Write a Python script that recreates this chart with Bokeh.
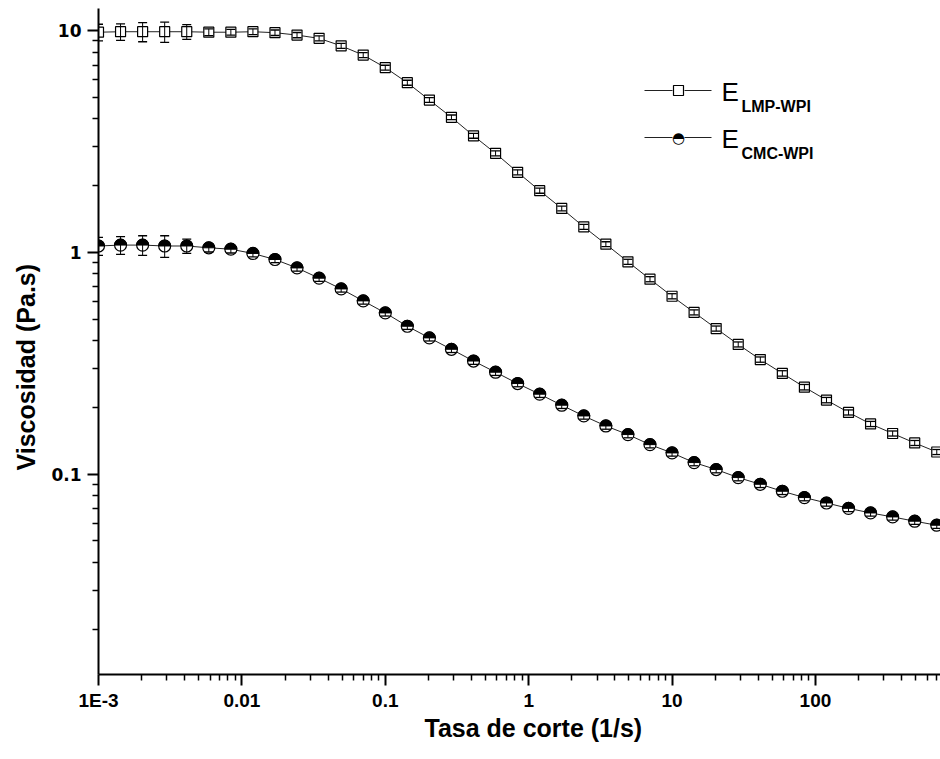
import math
from bokeh.plotting import figure
from bokeh.models import (ColumnDataSource, Range1d, FixedTicker, Label, Arrow,
                          BoxAnnotation, Title)
from bokeh.embed import file_html
from bokeh.resources import INLINE

# ---- data ----
shear_rate = [0.001, 0.001425, 0.002031, 0.002894, 0.004125, 0.005878, 0.008377,
              0.01194, 0.01701, 0.02424, 0.03455, 0.04924, 0.07017, 0.1, 0.1425,
              0.2031, 0.2894, 0.4125, 0.5878, 0.8377, 1.194, 1.701, 2.424, 3.455,
              4.924, 7.017, 10.0, 14.25, 20.31, 28.94, 41.25, 58.78, 83.77, 119.4,
              170.1, 242.4, 345.5, 492.4, 701.7]

visc_lmp = [9.85, 9.9, 9.9, 9.9, 9.9, 9.85, 9.85, 9.9, 9.8, 9.56, 9.24, 8.55, 7.77,
            6.82, 5.83, 4.87, 4.07, 3.36, 2.80, 2.30, 1.90, 1.58, 1.305, 1.09, 0.908,
            0.758, 0.635, 0.537, 0.454, 0.385, 0.329, 0.285, 0.247, 0.216, 0.190,
            0.1686, 0.1527, 0.1384, 0.126]
err_lmp = [0.85, 0.85, 0.98, 1.03, 0.75, 0.35, 0.3, 0.3, 0.28, 0.26, 0.24, 0.22, 0.2,
           0.17, 0.15, 0.12, 0.1, 0.085, 0.07, 0.06, 0.05, 0.04, 0.034, 0.028, 0.024,
           0.02, 0.017, 0.014, 0.012, 0.01, 0.009, 0.008, 0.007, 0.006, 0.005,
           0.0045, 0.004, 0.0036, 0.0033]

visc_cmc = [1.07, 1.08, 1.08, 1.07, 1.07, 1.05, 1.035, 0.99, 0.93, 0.852, 0.766,
            0.685, 0.605, 0.534, 0.465, 0.412, 0.366, 0.324, 0.2885, 0.2565, 0.2296,
            0.2048, 0.1832, 0.1651, 0.151, 0.136, 0.1248, 0.1129, 0.105, 0.0966,
            0.0901, 0.0838, 0.0785, 0.0742, 0.0702, 0.0669, 0.0642, 0.0614, 0.0589]
err_cmc = [0.1, 0.1, 0.11, 0.12, 0.08, 0.045, 0.04, 0.035, 0.03, 0.028, 0.025,
           0.022, 0.02, 0.017, 0.015, 0.013, 0.012, 0.011, 0.0095, 0.0085, 0.0076,
           0.0068, 0.006, 0.0055, 0.005, 0.0045, 0.0041, 0.0037, 0.0035, 0.0032,
           0.003, 0.0028, 0.0026, 0.0024, 0.0023, 0.0022, 0.0021, 0.002, 0.0019]

x_tick_vals = [0.001, 0.01, 0.1, 1, 10, 100]
x_tick_labels = ["1E-3", "0.01", "0.1", "1", "10", "100"]
y_tick_vals = [0.1, 1, 10]
y_tick_labels = ["0.1", "1", "10"]

series_names = ["LMP-WPI", "CMC-WPI"]
x_title = "Tasa de corte (1/s)"
y_title = "Viscosidad (Pa.s)"

# ---- sources ----
src_lmp = ColumnDataSource(dict(
    x=shear_rate, y=visc_lmp,
    lo=[v - e for v, e in zip(visc_lmp, err_lmp)],
    hi=[v + e for v, e in zip(visc_lmp, err_lmp)]))
src_cmc = ColumnDataSource(dict(
    x=shear_rate, y=visc_cmc,
    lo=[v - e for v, e in zip(visc_cmc, err_cmc)],
    hi=[v + e for v, e in zip(visc_cmc, err_cmc)]))

p = figure(frame_width=842, frame_height=666,
           x_axis_type="log", y_axis_type="log",
           x_range=Range1d(0.001, 745), y_range=Range1d(0.0125, 12.6),
           output_backend="svg", toolbar_location=None,
           min_border_left=98, min_border_right=0, min_border_top=8,
           min_border_bottom=85)
p.outline_line_color = None
p.xgrid.visible = False
p.ygrid.visible = False
p.background_fill_color = "white"
p.border_fill_color = "white"

# ---- axes ----
x_minor = [m * 10.0 ** k for k in range(-3, 3) for m in range(2, 10)]
y_minor = [m * 10.0 ** k for k in range(-2, 2) for m in range(2, 10)]
p.xaxis.ticker = FixedTicker(ticks=x_tick_vals, minor_ticks=x_minor)
p.yaxis.ticker = FixedTicker(ticks=y_tick_vals, minor_ticks=y_minor)
p.xaxis.major_label_overrides = dict(zip(x_tick_vals, x_tick_labels))
p.yaxis.major_label_overrides = dict(zip(y_tick_vals, y_tick_labels))

for ax in (p.xaxis[0], p.yaxis[0]):
    ax.axis_line_width = 2
    ax.axis_line_color = "black"
    ax.major_tick_line_width = 2
    ax.major_tick_line_color = "black"
    ax.minor_tick_line_width = 1.5
    ax.minor_tick_line_color = "black"
    ax.major_tick_in = 0
    ax.major_tick_out = 11
    ax.minor_tick_in = 0
    ax.minor_tick_out = 6
    ax.major_label_text_color = "black"
    ax.major_label_text_font_style = "bold"

p.xaxis.major_label_text_font = "Liberation Sans"
p.xaxis.major_label_text_font_size = "19px"
p.xaxis.major_label_standoff = 4

p.yaxis.major_label_text_font = "DejaVu Sans"
p.yaxis.major_label_text_font_size = "17px"
p.yaxis.major_label_standoff = 6

# axis titles as side titles (offset from frame start)
p.add_layout(Title(text=x_title, align="left", offset=326, standoff=0,
                   vertical_align="top",
                   text_font="Liberation Sans", text_font_style="bold",
                   text_font_size="25px", text_color="black"), "below")
p.add_layout(Title(text=y_title, align="left", offset=204, standoff=17,
                   text_font="Liberation Sans", text_font_style="bold",
                   text_font_size="25px", text_color="black"), "left")

# ---- LMP series: line, white squares, error bars ----
p.line("x", "y", source=src_lmp, line_color="#222222", line_width=1)
p.scatter("x", "y", source=src_lmp, marker="square", size=10,
          fill_color="white", line_color="black", line_width=1.2)
p.segment("x", "lo", "x", "hi", source=src_lmp, line_color="black", line_width=1)
p.scatter("x", "lo", source=src_lmp, marker="dash", size=9, line_color="black", line_width=1.3)
p.scatter("x", "hi", source=src_lmp, marker="dash", size=9, line_color="black", line_width=1.3)

# ---- CMC series: line, half-filled circles, error bars ----
p.line("x", "y", source=src_cmc, line_color="#222222", line_width=1)
p.scatter("x", "y", source=src_cmc, marker="circle", size=12,
          fill_color="white", line_color="black", line_width=1.2)
p.segment("x", "lo", "x", "hi", source=src_cmc, line_color="black", line_width=1)
p.scatter("x", "lo", source=src_cmc, marker="dash", size=9, line_color="black", line_width=1.3)
p.scatter("x", "hi", source=src_cmc, marker="dash", size=9, line_color="black", line_width=1.3)
p.wedge("x", "y", source=src_cmc, radius=6, radius_units="screen",
        start_angle=0, end_angle=math.pi, fill_color="black", line_color="black",
        line_width=1)

# ---- legend (screen units, frame-relative) ----
legend_rows = [584, 537]
for i, (name, fy) in enumerate(zip(series_names, legend_rows)):
    p.add_layout(Arrow(x_start=546, y_start=fy, x_end=574, y_end=fy,
                       start_units="screen", end_units="screen", end=None,
                       line_color="#222222", line_width=1))
    p.add_layout(Arrow(x_start=586, y_start=fy, x_end=613, y_end=fy,
                       start_units="screen", end_units="screen", end=None,
                       line_color="#222222", line_width=1))
    if i == 0:
        p.add_layout(BoxAnnotation(left=575, right=585, bottom=fy - 5, top=fy + 5,
                                   left_units="screen", right_units="screen",
                                   bottom_units="screen", top_units="screen",
                                   fill_color="white", fill_alpha=1,
                                   line_color="black", line_width=1.2, line_alpha=1))
    else:
        p.add_layout(Label(x=580, y=fy, x_units="screen", y_units="screen",
                           text="\u25D3", text_font="DejaVu Sans",
                           text_font_size="15px", text_align="center",
                           text_baseline="middle", text_color="black"))
    p.add_layout(Label(x=623, y=fy - 1, x_units="screen", y_units="screen", text="E",
                       text_font="Liberation Sans", text_font_size="26px",
                       text_baseline="alphabetic", text_color="black"))
    p.add_layout(Label(x=643, y=fy - 16, x_units="screen", y_units="screen", text=name,
                       text_font="Liberation Sans", text_font_style="bold",
                       text_font_size="16px", text_baseline="alphabetic",
                       text_color="black"))

open("out.html", "w").write(file_html(p, INLINE))
